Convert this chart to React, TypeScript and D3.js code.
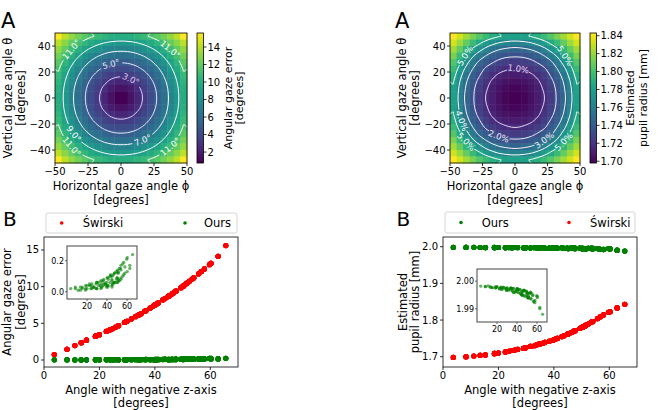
import React from "react";
import * as d3 from "d3";

const FONT = "'DejaVu Sans', sans-serif";

// gaze angle grid (degrees): 20 samples from -50 to 50
const GAZE_GRID = [-50, -44.74, -39.47, -34.21, -28.95, -23.68, -18.42, -13.16, -7.89, -2.63, 2.63, 7.89, 13.16, 18.42, 23.68, 28.95, 34.21, 39.47, 44.74, 50];

// one quadrant (|theta| rows, |phi| cols, from 2.63 to 50 deg) of Świrski angular gaze error [deg]
const SWIRSKI_ERROR_Q = [
  [0.75, 1.45, 2.35, 3.25, 4.11, 5.11, 6.16, 7.39, 8.65, 10.02],
  [1.45, 1.96, 2.70, 3.45, 4.28, 5.28, 6.30, 7.53, 8.77, 10.14],
  [2.35, 2.70, 3.24, 3.90, 4.68, 5.61, 6.63, 7.80, 9.02, 10.38],
  [3.25, 3.45, 3.90, 4.47, 5.24, 6.08, 7.09, 8.20, 9.38, 10.73],
  [4.11, 4.28, 4.68, 5.24, 5.90, 6.72, 7.68, 8.71, 9.85, 11.18],
  [5.11, 5.28, 5.61, 6.08, 6.72, 7.51, 8.37, 9.35, 10.47, 11.75],
  [6.16, 6.30, 6.63, 7.09, 7.68, 8.37, 9.18, 10.10, 11.21, 12.42],
  [7.39, 7.53, 7.80, 8.20, 8.71, 9.35, 10.10, 11.03, 12.06, 13.19],
  [8.65, 8.77, 9.02, 9.38, 9.85, 10.47, 11.21, 12.06, 13.00, 14.14],
  [10.02, 10.14, 10.38, 10.73, 11.18, 11.75, 12.42, 13.19, 14.14, 15.60],
];

// Świrski estimated pupil radius [mm]
const SWIRSKI_RADIUS_Q = [
  [1.698, 1.700, 1.704, 1.709, 1.715, 1.723, 1.734, 1.745, 1.761, 1.780],
  [1.700, 1.702, 1.705, 1.710, 1.717, 1.725, 1.735, 1.747, 1.763, 1.781],
  [1.704, 1.705, 1.708, 1.713, 1.720, 1.728, 1.738, 1.750, 1.766, 1.784],
  [1.709, 1.710, 1.713, 1.718, 1.724, 1.733, 1.742, 1.755, 1.771, 1.789],
  [1.715, 1.717, 1.720, 1.724, 1.730, 1.739, 1.749, 1.762, 1.777, 1.796],
  [1.723, 1.725, 1.728, 1.733, 1.739, 1.746, 1.757, 1.771, 1.786, 1.804],
  [1.734, 1.735, 1.738, 1.742, 1.749, 1.757, 1.768, 1.780, 1.796, 1.814],
  [1.745, 1.747, 1.750, 1.755, 1.762, 1.771, 1.780, 1.794, 1.809, 1.823],
  [1.761, 1.763, 1.766, 1.771, 1.777, 1.786, 1.796, 1.809, 1.821, 1.833],
  [1.780, 1.781, 1.784, 1.789, 1.796, 1.804, 1.814, 1.823, 1.833, 1.843],
];

// Ours angular gaze error [deg]
const OURS_ERROR_Q = [
  [0.02, 0.02, 0.03, 0.01, 0.04, 0.02, 0.05, 0.03, 0.08, 0.06],
  [0.03, 0.01, 0.02, 0.04, 0.02, 0.06, 0.03, 0.09, 0.05, 0.12],
  [0.01, 0.03, 0.02, 0.05, 0.03, 0.04, 0.07, 0.04, 0.11, 0.08],
  [0.04, 0.02, 0.04, 0.03, 0.06, 0.02, 0.05, 0.10, 0.06, 0.15],
  [0.02, 0.05, 0.03, 0.02, 0.04, 0.08, 0.03, 0.07, 0.13, 0.09],
  [0.05, 0.02, 0.06, 0.07, 0.05, 0.04, 0.10, 0.06, 0.12, 0.18],
  [0.03, 0.07, 0.04, 0.05, 0.09, 0.11, 0.06, 0.14, 0.08, 0.16],
  [0.06, 0.04, 0.08, 0.06, 0.03, 0.12, 0.09, 0.15, 0.19, 0.13],
  [0.04, 0.10, 0.05, 0.12, 0.08, 0.07, 0.17, 0.11, 0.21, 0.17],
  [0.09, 0.06, 0.13, 0.07, 0.14, 0.10, 0.12, 0.22, 0.15, 0.24],
];

// Ours estimated pupil radius [mm]
const OURS_RADIUS_Q = [
  [1.9982, 1.9981, 1.9979, 1.9976, 1.9978, 1.9972, 1.9975, 1.9968, 1.9962, 1.9955],
  [1.9980, 1.9983, 1.9977, 1.9979, 1.9971, 1.9976, 1.9966, 1.9973, 1.9950, 1.9958],
  [1.9978, 1.9976, 1.9980, 1.9972, 1.9977, 1.9969, 1.9974, 1.9960, 1.9967, 1.9945],
  [1.9975, 1.9979, 1.9973, 1.9978, 1.9968, 1.9975, 1.9962, 1.9970, 1.9948, 1.9957],
  [1.9977, 1.9970, 1.9976, 1.9966, 1.9974, 1.9960, 1.9971, 1.9952, 1.9964, 1.9938],
  [1.9971, 1.9975, 1.9967, 1.9974, 1.9958, 1.9972, 1.9955, 1.9966, 1.9942, 1.9950],
  [1.9974, 1.9965, 1.9973, 1.9961, 1.9970, 1.9953, 1.9968, 1.9944, 1.9958, 1.9930],
  [1.9966, 1.9972, 1.9958, 1.9969, 1.9950, 1.9965, 1.9940, 1.9960, 1.9928, 1.9945],
  [1.9960, 1.9948, 1.9965, 1.9945, 1.9962, 1.9938, 1.9957, 1.9925, 1.9948, 1.9905],
  [1.9952, 1.9958, 1.9940, 1.9955, 1.9935, 1.9948, 1.9922, 1.9940, 1.9900, 1.9880],
];

const ERROR_LEVELS = [3, 5, 7, 9, 11];
const RADIUS_LEVELS_PCT = [1, 2, 3, 4, 5];
// [level, direction (deg) from heatmap centre] where the inline labels sit
const ERROR_LABEL_SPOTS = [[3, 58], [5, 111], [7, -62], [9, -143], [11, 138], [11, 45], [11, -136], [11, -47]];
const RADIUS_LABEL_SPOTS = [[1, 83], [2, -114], [3, -51], [4, -158], [5, 142], [5, 39], [5, -138], [5, -43]];

const HEAT_X_TICKS = [-50, -25, 0, 25, 50];
const HEAT_Y_TICKS = [-40, -20, 0, 20, 40];
const ERROR_CB_TICKS = [2, 4, 6, 8, 10, 12, 14];
const RADIUS_CB_TICKS = [1.70, 1.72, 1.74, 1.76, 1.78, 1.80, 1.82, 1.84];
const SCATTER_X_TICKS = [0, 20, 40, 60];
const ERROR_Y_TICKS = [0, 5, 10, 15];
const RADIUS_Y_TICKS = [1.7, 1.8, 1.9, 2.0];
const INSET_X_TICKS = [20, 40, 60];
const ERROR_INSET_Y_TICKS = [0.0, 0.2];
const RADIUS_INSET_Y_TICKS = [1.99, 2.0];

const RED = "#ff0000";
const GREEN = "#008000";

const minus = (v: number, s: string) => (v < 0 ? "\u2212" + s.replace("-", "") : s);

function qIndex(k: number) {
  return k >= 10 ? k - 10 : 9 - k;
}

function fullGrid(Q: number[][]) {
  const n = GAZE_GRID.length;
  const vals: number[] = [];
  for (let r = 0; r < n; r++) for (let c = 0; c < n; c++) vals.push(Q[qIndex(n - 1 - r)][qIndex(c)]);
  return vals;
}

// every grid cell -> (angle with negative z-axis, value); quadrants with opposite signs read the table transposed
function scatterPoints(Q: number[][]) {
  const n = GAZE_GRID.length;
  const pts: { x: number; y: number }[] = [];
  const rad = Math.PI / 180;
  for (let t = 0; t < n; t++)
    for (let p = 0; p < n; p++) {
      const ang = Math.acos(Math.cos(GAZE_GRID[t] * rad) * Math.cos(GAZE_GRID[p] * rad)) / rad;
      const same = (GAZE_GRID[t] > 0) === (GAZE_GRID[p] > 0);
      const v = same ? Q[qIndex(t)][qIndex(p)] : Q[qIndex(p)][qIndex(t)];
      pts.push({ x: ang, y: v });
    }
  return pts;
}

function ringToLines(ring: number[][], n: number) {
  let pts = ring.slice();
  const f = pts[0], l = pts[pts.length - 1];
  if (f[0] === l[0] && f[1] === l[1]) pts = pts.slice(0, -1);
  const m = pts.length;
  const onB = (p: number[]) => p[0] <= 0 || p[0] >= n || p[1] <= 0 || p[1] >= n;
  const isB = (i: number) => onB(pts[i % m]) && onB(pts[(i + 1) % m]);
  let start = -1;
  for (let i = 0; i < m; i++) if (isB(i)) { start = (i + 1) % m; break; }
  if (start < 0) return [{ pts, closed: true }];
  const lines: any[] = [];
  let cur = [pts[start]];
  for (let k = 0; k < m; k++) {
    const i = (start + k) % m;
    if (isB(i)) {
      if (cur.length > 1) lines.push({ pts: cur, closed: false });
      cur = [pts[(i + 1) % m]];
    } else cur.push(pts[(i + 1) % m]);
  }
  if (cur.length > 1) lines.push({ pts: cur, closed: false });
  return lines;
}

function HeatPanel(props: any) {
  const { id, x0, y0, w, h, Q, levels, spots, lineColors, cbX, cbW, cbTicks, cbFmt, cbLabels, yLabelXs, letterX } = props;
  const n = GAZE_GRID.length;
  const vals = fullGrid(Q);
  const [vmin, vmax] = d3.extent(vals) as [number, number];
  const color = d3.scaleSequential(d3.interpolateViridis).domain([vmin, vmax]);
  const xs = d3.scaleLinear().domain([-50, 50]).range([x0, x0 + w]);
  const ys = d3.scaleLinear().domain([-50, 50]).range([y0 + h, y0]);
  const bx = d3.scaleBand<number>().domain(d3.range(n)).range([x0, x0 + w]);
  const by = d3.scaleBand<number>().domain(d3.range(n)).range([y0, y0 + h]);
  const gx = d3.scaleLinear().domain([0, n]).range([x0, x0 + w]);
  const gy = d3.scaleLinear().domain([0, n]).range([y0, y0 + h]);
  const cs = d3.contours().size([n, n]).thresholds(levels.map((l: any) => l.value))(vals);
  const lineSets = cs.map((c: any) => {
    const lines: any[] = [];
    c.coordinates.forEach((poly: any) => poly.forEach((ring: any) => lines.push(...ringToLines(ring, n))));
    return lines.map((ln) => ({ closed: ln.closed, pts: ln.pts.map((p: number[]) => [gx(p[0]), gy(p[1])]) }));
  });
  const cx = xs(0), cy = ys(0);
  const fs = 8.5;
  const labels = spots.map(([lv, dir]: number[]) => {
    const li = levels.findIndex((l: any) => l.key === lv);
    let best: any = null, bestD = Infinity;
    lineSets[li].forEach((line: any) =>
      line.pts.forEach((p: number[], i: number) => {
        const a = (Math.atan2(cy - p[1], p[0] - cx) * 180) / Math.PI;
        let d = Math.abs(a - dir);
        if (d > 180) d = 360 - d;
        if (d < bestD) { bestD = d; best = { line, i }; }
      })
    );
    const pts = best.line.pts, m = pts.length, i = best.i;
    const prev = pts[best.line.closed ? (i - 1 + m) % m : Math.max(0, i - 1)];
    const next = pts[best.line.closed ? (i + 1) % m : Math.min(m - 1, i + 1)];
    let rot = (Math.atan2(next[1] - prev[1], next[0] - prev[0]) * 180) / Math.PI;
    if (rot > 90) rot -= 180;
    if (rot < -90) rot += 180;
    const text = levels[li].label;
    return { x: pts[i][0], y: pts[i][1], rot, text, color: lineColors[li], wl: text.length * fs * 0.56 + 3 };
  });
  const closedGen = d3.line().curve(d3.curveCatmullRomClosed);
  const openGen = d3.line().curve(d3.curveCatmullRom);
  const cbs = d3.scaleLinear().domain([vmin, vmax]).range([y0 + h, y0]);
  const stops = d3.range(0, 1.0001, 0.05);
  return (
    <g>
      <defs>
        <clipPath id={`clip-${id}`}>
          <rect x={x0} y={y0} width={w} height={h} />
        </clipPath>
        <mask id={`mask-${id}`} maskUnits="userSpaceOnUse" x={0} y={0} width={658} height={410}>
          <rect x={0} y={0} width={658} height={410} fill="white" />
          {labels.map((l: any, k: number) => (
            <rect key={k} x={-l.wl / 2} y={-4.5} width={l.wl} height={9} fill="black" transform={`translate(${l.x},${l.y}) rotate(${l.rot})`} />
          ))}
        </mask>
        <linearGradient id={`grad-${id}`} x1={0} y1={1} x2={0} y2={0}>
          {stops.map((t) => (
            <stop key={t} offset={t} stopColor={d3.interpolateViridis(t)} />
          ))}
        </linearGradient>
      </defs>
      {vals.map((v, k) => (
        <rect key={k} x={bx(k % n)} y={by(Math.floor(k / n))} width={bx.bandwidth() + 0.4} height={by.bandwidth() + 0.4} fill={color(v)} />
      ))}
      <g clipPath={`url(#clip-${id})`}>
        <g mask={`url(#mask-${id})`}>
          {lineSets.map((lines: any[], li: number) =>
            lines.map((ln, k) => (
              <path key={`${li}-${k}`} d={(ln.closed ? closedGen : openGen)(ln.pts) || ""} fill="none" stroke={lineColors[li]} strokeWidth={1} />
            ))
          )}
        </g>
      </g>
      {labels.map((l: any, k: number) => (
        <text key={k} transform={`translate(${l.x},${l.y}) rotate(${l.rot})`} textAnchor="middle" dominantBaseline="central" fontSize={fs} fill={l.color}>
          {l.text}
        </text>
      ))}
      <rect x={x0} y={y0} width={w} height={h} fill="none" stroke="#000" strokeWidth={0.8} />
      {HEAT_X_TICKS.map((t) => (
        <g key={t}>
          <line x1={xs(t)} x2={xs(t)} y1={y0 + h} y2={y0 + h + 3} stroke="#000" strokeWidth={0.8} />
          <text x={xs(t)} y={y0 + h + 4.5} dy="0.76em" textAnchor="middle" fontSize={10}>
            {minus(t, String(t))}
          </text>
        </g>
      ))}
      {HEAT_Y_TICKS.map((t) => (
        <g key={t}>
          <line x1={x0 - 3} x2={x0} y1={ys(t)} y2={ys(t)} stroke="#000" strokeWidth={0.8} />
          <text x={x0 - 4.5} y={ys(t)} dy="0.35em" textAnchor="end" fontSize={10}>
            {minus(t, String(t))}
          </text>
        </g>
      ))}
      <rect x={cbX} y={y0} width={cbW} height={h} fill={`url(#grad-${id})`} stroke="#000" strokeWidth={0.8} />
      {cbTicks.map((t: number) => (
        <g key={t}>
          <line x1={cbX + cbW} x2={cbX + cbW + 3} y1={cbs(t)} y2={cbs(t)} stroke="#000" strokeWidth={0.8} />
          <text x={cbX + cbW + 4} y={cbs(t)} dy="0.35em" fontSize={10}>
            {cbFmt(t)}
          </text>
        </g>
      ))}
      {cbLabels.map((c: any, k: number) => (
        <text key={k} transform={`translate(${c.x},${y0 + h / 2}) rotate(-90)`} textAnchor="middle" dominantBaseline="central" fontSize={11}>
          {c.text}
        </text>
      ))}
      <text transform={`translate(${yLabelXs[0]},${y0 + h / 2}) rotate(-90)`} textAnchor="middle" dominantBaseline="central" fontSize={11.5}>
        Vertical gaze angle θ
      </text>
      <text transform={`translate(${yLabelXs[1]},${y0 + h / 2}) rotate(-90)`} textAnchor="middle" dominantBaseline="central" fontSize={11.5}>
        [degrees]
      </text>
      <text x={x0 + w / 2} y={186} textAnchor="middle" dominantBaseline="central" fontSize={11.5}>
        Horizontal gaze angle ϕ
      </text>
      <text x={x0 + w / 2} y={199.5} textAnchor="middle" dominantBaseline="central" fontSize={11.5}>
        [degrees]
      </text>
      <text x={letterX} y={28} fontSize={21}>
        A
      </text>
    </g>
  );
}

function Inset(props: any) {
  const { x0, x1, y0, y1, yDomain, yTicks, yFmt, pts } = props;
  const xs = d3.scaleLinear().domain([0, 70]).range([x0, x1]);
  const ys = d3.scaleLinear().domain(yDomain).range([y1, y0]);
  const cid = `inset-${x0}`;
  return (
    <g>
      <defs>
        <clipPath id={cid}>
          <rect x={x0} y={y0} width={x1 - x0} height={y1 - y0} />
        </clipPath>
      </defs>
      <rect x={x0} y={y0} width={x1 - x0} height={y1 - y0} fill="#fff" />
      <g clipPath={`url(#${cid})`}>
        {pts.map((d: any, i: number) => (
          <circle key={i} cx={xs(d.x)} cy={ys(d.y)} r={1.6} fill={GREEN} fillOpacity={0.2} />
        ))}
      </g>
      <rect x={x0} y={y0} width={x1 - x0} height={y1 - y0} fill="none" stroke="#444" strokeWidth={1} />
      {INSET_X_TICKS.map((t) => (
        <g key={t}>
          <line x1={xs(t)} x2={xs(t)} y1={y1} y2={y1 + 2} stroke="#444" strokeWidth={0.8} />
          <text x={xs(t)} y={y1 + 3.5} dy="0.76em" textAnchor="middle" fontSize={8}>
            {t}
          </text>
        </g>
      ))}
      {yTicks.map((t: number) => (
        <g key={t}>
          <line x1={x0 - 2} x2={x0} y1={ys(t)} y2={ys(t)} stroke="#444" strokeWidth={0.8} />
          <text x={x0 - 3} y={ys(t)} dy="0.35em" textAnchor="end" fontSize={8}>
            {yFmt(t)}
          </text>
        </g>
      ))}
    </g>
  );
}

function ScatterPanel(props: any) {
  const { x0, x1, y0, y1, yDomain, yTicks, yFmt, layers, legendBox, legendItems, inset, yLabels, letterX } = props;
  const xs = d3.scaleLinear().domain([0, 70]).range([x0, x1]);
  const ys = d3.scaleLinear().domain(yDomain).range([y1, y0]);
  const cid = `sc-${x0}`;
  return (
    <g>
      <defs>
        <clipPath id={cid}>
          <rect x={x0} y={y0} width={x1 - x0} height={y1 - y0} />
        </clipPath>
      </defs>
      <g clipPath={`url(#${cid})`}>
        {layers.map((L: any, li: number) =>
          L.pts.map((d: any, i: number) => <circle key={`${li}-${i}`} cx={xs(d.x)} cy={ys(d.y)} r={2.6} fill={L.color} />)
        )}
      </g>
      <rect x={x0} y={y0} width={x1 - x0} height={y1 - y0} fill="none" stroke="#000" strokeWidth={0.8} />
      {SCATTER_X_TICKS.map((t) => (
        <g key={t}>
          <line x1={xs(t)} x2={xs(t)} y1={y1} y2={y1 + 3} stroke="#000" strokeWidth={0.8} />
          <text x={xs(t)} y={y1 + 4.5} dy="0.76em" textAnchor="middle" fontSize={10}>
            {t}
          </text>
        </g>
      ))}
      {yTicks.map((t: number) => (
        <g key={t}>
          <line x1={x0 - 3} x2={x0} y1={ys(t)} y2={ys(t)} stroke="#000" strokeWidth={0.8} />
          <text x={x0 - 5} y={ys(t)} dy="0.35em" textAnchor="end" fontSize={10}>
            {yFmt(t)}
          </text>
        </g>
      ))}
      <Inset {...inset} />
      <rect x={legendBox[0]} y={legendBox[1]} width={legendBox[2]} height={legendBox[3]} rx={2} fill="#fff" stroke="#cccccc" strokeWidth={0.8} />
      {legendItems.map((it: any, k: number) => (
        <g key={k}>
          <circle cx={it.mx} cy={legendBox[1] + legendBox[3] / 2} r={1.8} fill={it.color} />
          <text x={it.tx} y={legendBox[1] + legendBox[3] / 2} dy="0.35em" fontSize={11.5}>
            {it.label}
          </text>
        </g>
      ))}
      {yLabels.map((yl: any, k: number) => (
        <text key={k} transform={`translate(${yl.x},${(y0 + y1) / 2}) rotate(-90)`} textAnchor="middle" dominantBaseline="central" fontSize={11.5}>
          {yl.text}
        </text>
      ))}
      <text x={(x0 + x1) / 2} y={390} textAnchor="middle" dominantBaseline="central" fontSize={11.5}>
        Angle with negative z-axis
      </text>
      <text x={(x0 + x1) / 2} y={403} textAnchor="middle" dominantBaseline="central" fontSize={11.5}>
        [degrees]
      </text>
      <text x={letterX} y={226} fontSize={20}>
        B
      </text>
    </g>
  );
}

export default function App() {
  const radiusBase = d3.min(SWIRSKI_RADIUS_Q.flat()) as number;
  const errorLevels = ERROR_LEVELS.map((v) => ({ key: v, value: v, label: `${v.toFixed(1)}°` }));
  const radiusLevels = RADIUS_LEVELS_PCT.map((p) => ({ key: p, value: radiusBase * (1 + p / 100), label: `${p.toFixed(1)}%` }));
  const swErr = scatterPoints(SWIRSKI_ERROR_Q);
  const ourErr = scatterPoints(OURS_ERROR_Q);
  const swRad = scatterPoints(SWIRSKI_RADIUS_Q);
  const ourRad = scatterPoints(OURS_RADIUS_Q);
  return (
    <svg width={658} height={410} style={{ position: "absolute", left: 0, top: 0, background: "#fff" }} fontFamily={FONT}>
      <rect width={658} height={410} fill="#fff" />
      <HeatPanel
        id="err"
        x0={55}
        y0={33}
        w={132}
        h={130}
        Q={SWIRSKI_ERROR_Q}
        levels={errorLevels}
        spots={ERROR_LABEL_SPOTS}
        lineColors={["#dccaf2", "#ede3f8", "#f8f4fc", "#ffffff", "#ffffff"]}
        cbX={197}
        cbW={6.5}
        cbTicks={ERROR_CB_TICKS}
        cbFmt={(t: number) => String(t)}
        cbLabels={[{ text: "Angular gaze error", x: 228 }, { text: "[degrees]", x: 239 }]}
        yLabelXs={[8, 21]}
        letterX={1}
      />
      <HeatPanel
        id="rad"
        x0={450}
        y0={33}
        w={130}
        h={130}
        Q={SWIRSKI_RADIUS_Q}
        levels={radiusLevels}
        spots={RADIUS_LABEL_SPOTS}
        lineColors={["#e6d6f5", "#f1e9f9", "#f9f6fc", "#ffffff", "#ffffff"]}
        cbX={590}
        cbW={6.5}
        cbTicks={RADIUS_CB_TICKS}
        cbFmt={(t: number) => t.toFixed(2)}
        cbLabels={[{ text: "Estimated", x: 630 }, { text: "pupil radius [mm]", x: 643 }]}
        yLabelXs={[402, 415]}
        letterX={395}
      />
      <ScatterPanel
        x0={44}
        x1={238}
        y0={237}
        y1={367}
        yDomain={[-0.955, 16.77]}
        yTicks={ERROR_Y_TICKS}
        yFmt={(t: number) => String(t)}
        layers={[{ pts: swErr, color: RED }, { pts: ourErr, color: GREEN }]}
        legendBox={[46, 213, 191, 20]}
        legendItems={[
          { label: "Świrski", color: RED, mx: 61.7, tx: 82.7 },
          { label: "Ours", color: GREEN, mx: 185, tx: 204 },
        ]}
        inset={{ x0: 67, x1: 137, y0: 246, y1: 299, yDomain: [-0.047, 0.295], yTicks: ERROR_INSET_Y_TICKS, yFmt: (t: number) => t.toFixed(1), pts: ourErr }}
        yLabels={[{ text: "Angular gaze error", x: 7 }, { text: "[degrees]", x: 21 }]}
        letterX={3}
      />
      <ScatterPanel
        x0={443}
        x1={637}
        y0={237}
        y1={367}
        yDomain={[1.672, 2.0265]}
        yTicks={RADIUS_Y_TICKS}
        yFmt={(t: number) => t.toFixed(1)}
        layers={[{ pts: ourRad, color: GREEN }, { pts: swRad, color: RED }]}
        legendBox={[445, 212, 190, 21]}
        legendItems={[
          { label: "Ours", color: GREEN, mx: 461, tx: 481.7 },
          { label: "Świrski", color: RED, mx: 569, tx: 590 },
        ]}
        inset={{ x0: 477, x1: 547, y0: 269, y1: 322, yDomain: [1.9852, 2.0044], yTicks: RADIUS_INSET_Y_TICKS, yFmt: (t: number) => t.toFixed(2), pts: ourRad }}
        yLabels={[{ text: "Estimated", x: 402.5 }, { text: "pupil radius [mm]", x: 415 }]}
        letterX={396.5}
      />
    </svg>
  );
}
